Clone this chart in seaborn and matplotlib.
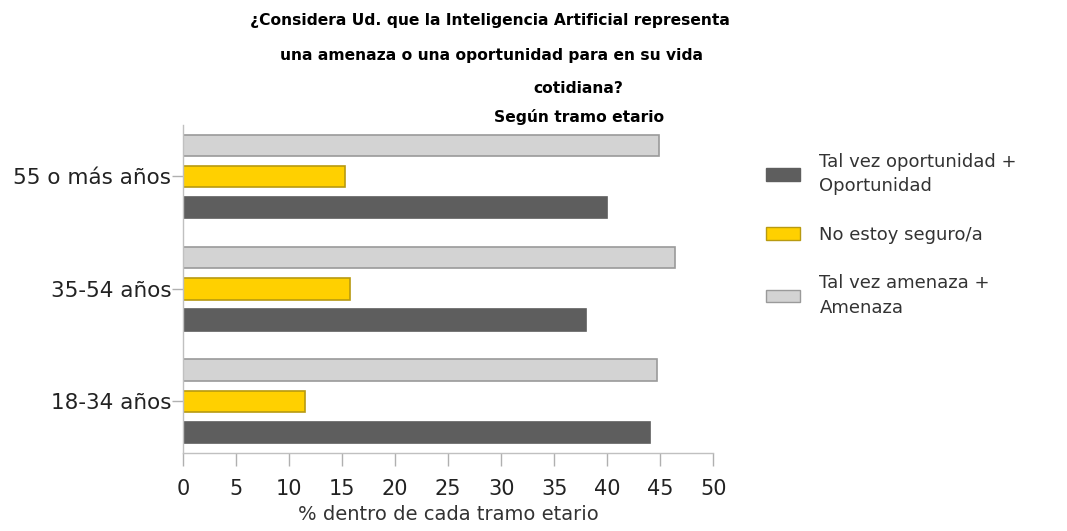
import pandas as pd
import matplotlib.pyplot as plt
import seaborn as sns

# age groups, top to bottom as in the chart
groups = ['55 o más años', '35-54 años', '18-34 años']

oportunidad = [40.0, 38.0, 44.0]
no_seguro = [15.3, 15.7, 11.5]
amenaza = [44.9, 46.4, 44.7]

series_names = ['Tal vez amenaza +\nAmenaza',
                'No estoy seguro/a',
                'Tal vez oportunidad +\nOportunidad']
series_colors = ['#d3d3d3', '#ffd000', '#5e5e5e']
edge_colors = ['#9a9a9a', '#b89a10', '#5e5e5e']

x_ticks = list(range(0, 55, 5))


def main():
    df = pd.DataFrame({
        'grupo': groups * 3,
        'serie': [series_names[0]] * 3 + [series_names[1]] * 3 + [series_names[2]] * 3,
        'valor': amenaza + no_seguro + oportunidad,
    })

    sns.set_theme(style='white')
    plt.rcParams['font.family'] = ['DejaVu Sans']

    fig = plt.figure(figsize=(10.67, 5.31), dpi=100)
    ax = fig.add_axes([0.1715, 0.147, 0.497, 0.618])

    sns.barplot(data=df, y='grupo', x='valor', hue='serie', orient='h',
                order=groups, hue_order=series_names,
                palette=series_colors, saturation=1, width=0.83, gap=0.31,
                linewidth=1.2, ax=ax)

    # per-series edge colours
    for cont, ec in zip(ax.containers, edge_colors):
        for bar in cont:
            bar.set_edgecolor(ec)

    ax.set_xlim(0, 50)
    ax.set_ylim(2.46, -0.46)
    ax.set_xticks(x_ticks)
    ax.set_xlabel('% dentro de cada tramo etario', fontsize=14, color='#333333', labelpad=4)
    ax.set_ylabel('')

    for s in ['top', 'right']:
        ax.spines[s].set_visible(False)
    for s in ['left', 'bottom']:
        ax.spines[s].set_color('#c0c0c0')
        ax.spines[s].set_linewidth(1.0)

    ax.tick_params(axis='x', direction='out', length=9, width=1, color='#b0b0b0',
                   labelsize=15, labelcolor='#222222', pad=10, bottom=True)
    ax.tick_params(axis='y', direction='out', length=8, width=1, color='#b0b0b0',
                   labelsize=15.5, labelcolor='#222222', pad=0.5, left=True)

    # legend: oportunidad first, like the reference
    handles, labels = ax.get_legend_handles_labels()
    handles = handles[::-1]
    for h, ec in zip(handles, edge_colors[::-1]):
        h.set_edgecolor(ec)
        h.set_linewidth(1.0)
    leg = ax.legend(handles, labels[::-1], loc='upper left',
                    bbox_to_anchor=(1.069, 0.965), frameon=False,
                    fontsize=13, labelcolor='#333333',
                    handlelength=1.9, handleheight=0.7, handletextpad=1.05,
                    labelspacing=1.7)
    for t in leg.get_texts():
        t.set_linespacing(1.45)

    # title lines, placed like the original
    fig.text(0.459, 0.962, '¿Considera Ud. que la Inteligencia Artificial representa',
             ha='center', va='center', fontsize=11.2, fontweight='bold', color='black')
    fig.text(0.461, 0.895, 'una amenaza o una oportunidad para en su vida',
             ha='center', va='center', fontsize=11.2, fontweight='bold', color='black')
    fig.text(0.542, 0.834, 'cotidiana?',
             ha='center', va='center', fontsize=11.2, fontweight='bold', color='black')
    fig.text(0.543, 0.780, 'Según tramo etario',
             ha='center', va='center', fontsize=11.2, fontweight='bold', color='black')

    fig.savefig('out.png', dpi=100)
    plt.close(fig)


if __name__ == '__main__':
    main()
